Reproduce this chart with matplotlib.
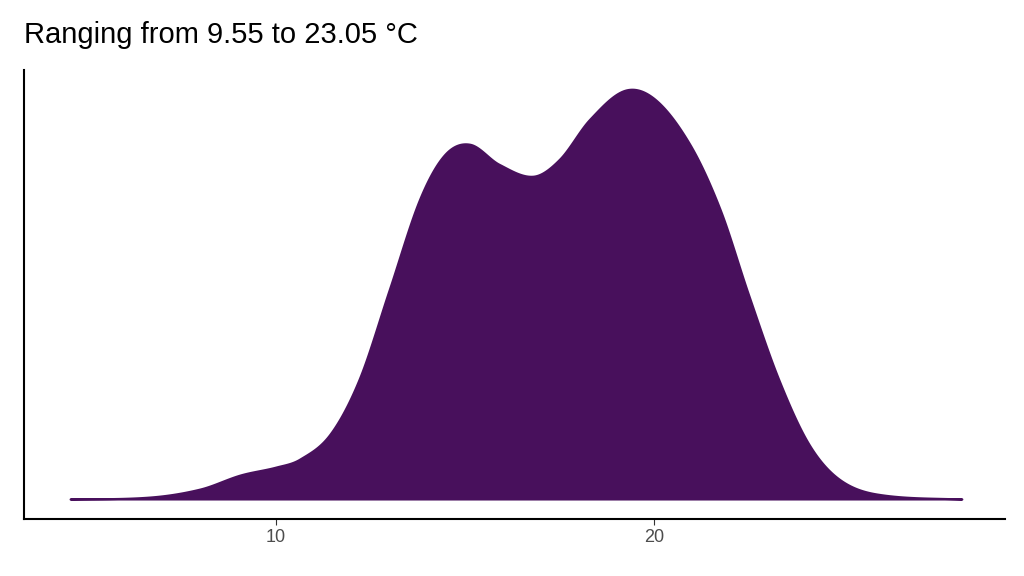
import matplotlib
matplotlib.use("Agg")
import matplotlib.pyplot as plt
import numpy as np

plt.rcParams['font.family'] = ['Liberation Sans', 'DejaVu Sans']

temp = [4.55, 6.67, 7.99, 9.05, 10.0, 10.63, 11.43, 12.2, 13.0, 13.8, 14.47, 15.13,
        15.9, 16.8, 17.5, 18.3, 19.23, 20.03, 20.95, 21.75, 22.5, 23.3, 24.1, 24.9, 25.9, 28.15]
density = [0, 2, 10, 24, 32, 40, 65, 120, 210, 300, 345, 355,
           335, 323, 340, 380, 409, 400, 355, 290, 205, 120, 55, 20, 5, 0]
density = [d / 409 * 0.1 for d in density]
ticks = [10, 20]

x = np.array(temp); y = np.array(density)
xs, ys = [], []
for i in range(len(x) - 1):
    x0, x1 = x[i], x[i+1]
    ym1 = y[i-1] if i > 0 else y[i]; yp2 = y[i+2] if i + 2 < len(y) else y[i+1]
    xm1 = x[i-1] if i > 0 else x[i] - 1; xp2 = x[i+2] if i + 2 < len(x) else x[i+1] + 1
    m0 = (y[i+1] - ym1) / (x1 - xm1); m1 = (yp2 - y[i]) / (xp2 - x0)
    t = np.linspace(0, 1, 20, endpoint=False); h = x1 - x0
    h00 = 2*t**3 - 3*t**2 + 1; h10 = t**3 - 2*t**2 + t; h01 = -2*t**3 + 3*t**2; h11 = t**3 - t**2
    xs.extend(x0 + t*h); ys.extend(h00*y[i] + h10*h*m0 + h01*y[i+1] + h11*h*m1)
xs.append(x[-1]); ys.append(y[-1])
ys = np.clip(ys, 0, None)

fig = plt.figure(figsize=(10.24, 5.76), dpi=100)
ax = fig.add_axes([0.0234, 0.099, 0.958, 0.779])
ax.fill_between(xs, ys, color="#48105C", linewidth=1.5, edgecolor="#48105C")
ax.set_xlim(3.33, 29.29)
ax.set_ylim(-0.1 * 20 / 409, 0.1 * 429 / 409)
ax.set_xticks(ticks)
ax.set_xticklabels([str(t) for t in ticks], fontsize=13, color="#4D4D4D")
ax.set_yticks([])
for s in ["top", "right"]:
    ax.spines[s].set_visible(False)
for s in ["left", "bottom"]:
    ax.spines[s].set_linewidth(1.5)
ax.tick_params(axis="x", length=4, color="#333333")
fig.text(0.0234, 0.915, "Ranging from 9.55 to 23.05 °C", fontsize=21, ha="left", va="bottom")
fig.savefig("out.png")
